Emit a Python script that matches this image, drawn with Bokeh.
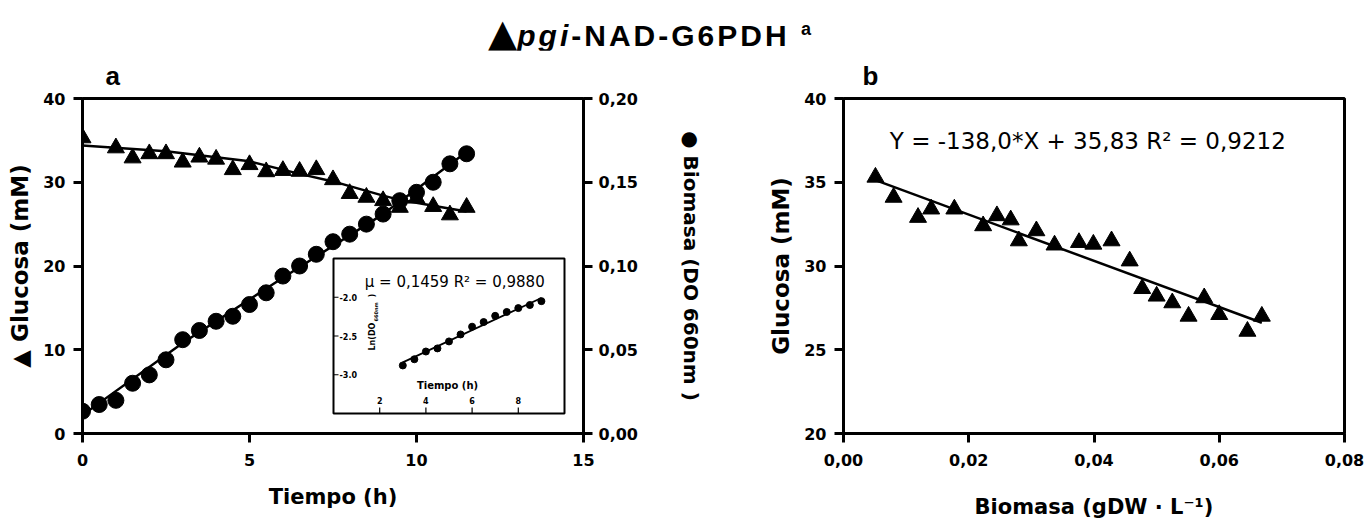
from math import pi
from bokeh.plotting import figure
from bokeh.models import Range1d, LinearAxis, Label, FixedTicker, CustomJSTickFormatter, Div
from bokeh.layouts import row, column
from bokeh.core.properties import value
from bokeh.embed import file_html
from bokeh.resources import INLINE

# ---------------- data ----------------
# panel a: biomass (OD 660nm, right axis) vs time
time_bio = [0, 0.5, 1, 1.5, 2, 2.5, 3, 3.5, 4, 4.5, 5, 5.5, 6, 6.5, 7, 7.5, 8, 8.5, 9, 9.5, 10, 10.5, 11, 11.5]
biomass_od = [0.0133, 0.0173, 0.0198, 0.0300, 0.0350, 0.0440, 0.0560, 0.0615, 0.0670, 0.0700, 0.0770, 0.0840,
              0.0940, 0.1000, 0.1070, 0.1145, 0.1190, 0.1250, 0.1310, 0.1390, 0.1440, 0.1500, 0.1610, 0.1670]
bio_fit_t = [0, 3, 6, 9, 11.5]
bio_fit = [0.011, 0.054, 0.093, 0.131, 0.168]

# panel a: glucose (mM, left axis) vs time
time_glc = [0, 1, 1.5, 2, 2.5, 3, 3.5, 4, 4.5, 5, 5.5, 6, 6.5, 7, 7.5, 8, 8.5, 9, 9.5, 10, 10.5, 11, 11.5]
glucose = [35.3, 34.1, 32.9, 33.4, 33.4, 32.4, 33.0, 32.75, 31.5, 32.1, 31.25, 31.4, 31.3, 31.5, 30.3,
           28.65, 28.2, 27.8, 27.0, 28.1, 27.1, 26.1, 27.0]
glc_fit_t = [0, 2.5, 5, 6.5, 7.5, 9, 9.5, 10.5, 11.5]
glc_fit = [34.4, 33.7, 32.5, 31.0, 30.1, 28.4, 27.9, 27.2, 26.5]

# inset: ln(OD) vs time
inset_t = [3, 3.5, 4, 4.5, 5, 5.5, 6, 6.5, 7, 7.5, 8, 8.5, 9]
inset_ln = [-2.88, -2.80, -2.70, -2.66, -2.57, -2.48, -2.38, -2.32, -2.24, -2.19, -2.14, -2.10, -2.05]
inset_fit_t = [3, 9]
inset_fit = [-2.84, -2.01]

# panel b: glucose vs biomass (gDW/L)
biomass_gdw = [0.0051, 0.0080, 0.0119, 0.0140, 0.0177, 0.0223, 0.0245, 0.0267, 0.0280, 0.0308, 0.0337, 0.0376,
               0.0399, 0.0428, 0.0457, 0.0477, 0.0500, 0.0525, 0.0551, 0.0576, 0.0600, 0.0645, 0.0668]
glucose_b = glucose
fit_b_x = [0.0052, 0.0668]
fit_b_y = [35.11, 26.61]

# axes / ticks
a_xr = [0, 15]
a_yr = [0, 40]
a_y2r = [0, 0.20]
b_xr = [0, 0.08]
b_yr = [20, 40]
inset_xr = [0, 10]
inset_yr = [-3.5, -1.5]
a_xticks = [0, 5, 10, 15]
a_yticks = [0, 10, 20, 30, 40]
a_y2ticks = [0, 0.05, 0.10, 0.15, 0.20]
b_xticks = [0, 0.02, 0.04, 0.06, 0.08]
b_yticks = [20, 25, 30, 35, 40]
inset_xticks = [2, 4, 6, 8]
inset_yticks = [-2.0, -2.5, -3.0]
inset_xtick_labels = ["2", "4", "6", "8"]
inset_ytick_labels = ["-2.0", "-2.5", "-3.0"]

# ---------------- layout (page pixels) ----------------
PAGE_W, PAGE_H = 1369, 522
TITLE_H = 50
FIG_H = PAGE_H - TITLE_H
A_W = 712
B_W = PAGE_W - A_W
A_L, A_R, A_T, A_B = 82, 583, 98, 433
B_L, B_R = 843, 1344
IN_L, IN_R, IN_T, IN_B = 333, 564, 258, 413

BOLD = "DejaVu Sans"


def inset_data(X, Y):
    x = inset_xr[0] + (X - IN_L) / (IN_R - IN_L) * (inset_xr[1] - inset_xr[0])
    y = inset_yr[0] + (IN_B - Y) / (IN_B - IN_T) * (inset_yr[1] - inset_yr[0])
    return x, y


def make_fig(width, xr, yr, left, right, letter, letter_offset):
    p = figure(width=width, height=FIG_H, x_range=Range1d(*xr), y_range=Range1d(*yr),
               output_backend="svg", toolbar_location=None,
               min_border_left=left, min_border_right=right,
               min_border_top=A_T - TITLE_H, min_border_bottom=PAGE_H - A_B,
               background_fill_color="white", border_fill_color="white")
    p.xgrid.grid_line_color = None
    p.ygrid.grid_line_color = None
    p.outline_line_color = "black"
    p.outline_line_width = 3
    p.outline_line_alpha = 1
    p.title.text = letter
    p.title.align = "left"
    p.title.offset = letter_offset
    p.title.standoff = 15
    p.title.text_font = "Liberation Sans"
    p.title.text_font_style = "bold"
    p.title.text_font_size = "26px"
    p.title.text_color = "black"
    return p


def style_axis(ax, ticks, label=None, tick_standoff=8, label_standoff=8, comma=False, label_size="21px"):
    ax.ticker = FixedTicker(ticks=ticks, minor_ticks=[])
    ax.axis_line_color = "black"
    ax.axis_line_width = 3
    ax.major_tick_line_color = "black"
    ax.major_tick_line_width = 3
    ax.major_tick_out = 9
    ax.major_tick_in = 0
    ax.minor_tick_line_color = None
    ax.major_label_text_font = BOLD
    ax.major_label_text_font_style = "bold"
    ax.major_label_text_font_size = "16px"
    ax.major_label_text_color = "black"
    ax.major_label_standoff = tick_standoff
    if comma:
        ax.formatter = CustomJSTickFormatter(code="return tick.toFixed(2).replace('.', ',');")
    if label is not None:
        ax.axis_label = label
        ax.axis_label_text_font = BOLD
        ax.axis_label_text_font_style = "bold"
        ax.axis_label_text_font_size = label_size
        ax.axis_label_text_color = "black"
        ax.axis_label_standoff = label_standoff


def add_label(p, xy, text, size, style="bold", angle=0, align="center", baseline="middle",
              font=BOLD, xrn="default", yrn="default"):
    p.add_layout(Label(x=xy[0], y=xy[1], text=text, angle=angle, text_align=align,
                       text_baseline=baseline, text_font=font, text_font_size=size,
                       text_font_style=style, text_color="black",
                       x_range_name=xrn, y_range_name=yrn))


# ---------------- panel a ----------------
pa = make_fig(A_W, a_xr, a_yr, A_L, A_W - A_R, "a", 23)
ix0 = inset_data(A_L, A_B)[0]
ix1 = inset_data(A_R, A_B)[0]
iy0 = inset_data(A_L, A_B)[1]
iy1 = inset_data(A_L, A_T)[1]
pa.extra_y_ranges = {"bio": Range1d(*a_y2r), "iy": Range1d(iy0, iy1)}
pa.extra_x_ranges = {"ix": Range1d(ix0, ix1)}

style_axis(pa.xaxis[0], a_xticks, "Tiempo (h)", tick_standoff=11, label_standoff=16)
style_axis(pa.yaxis[0], a_yticks, "▲ Glucosa (mM)", tick_standoff=8, label_standoff=7, label_size="23px")
ax_r = LinearAxis(y_range_name="bio")
style_axis(ax_r, a_y2ticks, "● Biomasa (DO 660nm )", tick_standoff=6, label_standoff=38, comma=True,
           label_size="20px")
pa.add_layout(ax_r, "right")

pa.line(glc_fit_t, glc_fit, line_width=2.5, color="black")
pa.scatter(time_glc, glucose, marker="triangle", size=17, color="black")
pa.line(bio_fit_t, bio_fit, y_range_name="bio", line_width=2.5, color="black")
pa.scatter(time_bio, biomass_od, y_range_name="bio", marker="circle", size=16, color="black")

# inset box
pa.quad(left=[inset_xr[0]], right=[inset_xr[1]], bottom=[inset_yr[0]], top=[inset_yr[1]],
        x_range_name="ix", y_range_name="iy", fill_color="white", line_color="black", line_width=2)
tick_len_y = (inset_yr[1] - inset_yr[0]) * 6 / (IN_B - IN_T)
tick_len_x = (inset_xr[1] - inset_xr[0]) * 5 / (IN_R - IN_L)
pa.segment(x0=inset_xticks, y0=[inset_yr[0]] * len(inset_xticks), x1=inset_xticks,
           y1=[inset_yr[0] + tick_len_y] * len(inset_xticks),
           x_range_name="ix", y_range_name="iy", line_color="black", line_width=1.2)
pa.segment(x0=[inset_xr[0]] * len(inset_yticks), y0=inset_yticks, x1=[inset_xr[0] + tick_len_x] * len(inset_yticks),
           y1=inset_yticks, x_range_name="ix", y_range_name="iy", line_color="black", line_width=1.2)
pa.text(x=inset_xticks, y=[inset_data(0, 400)[1]] * len(inset_xticks), text=inset_xtick_labels,
        x_range_name="ix", y_range_name="iy", text_align="center", text_baseline="middle",
        text_font=value(BOLD), text_font_style="bold", text_font_size="8px", text_color="black")
pa.text(x=[inset_data(339, 0)[0]] * len(inset_yticks), y=inset_yticks, text=inset_ytick_labels,
        x_range_name="ix", y_range_name="iy", text_align="left", text_baseline="middle",
        text_font=value(BOLD), text_font_style="bold", text_font_size="8px", text_color="black")
pa.line(inset_fit_t, inset_fit, x_range_name="ix", y_range_name="iy", line_width=1.8, color="black")
pa.scatter(inset_t, inset_ln, x_range_name="ix", y_range_name="iy", marker="circle", size=7, color="black")

add_label(pa, inset_data(459, 281), "μ = 0,1459   R² = 0,9880", "15px", style="normal", xrn="ix", yrn="iy")
add_label(pa, inset_data(447, 385), "Tiempo (h)", "10px", xrn="ix", yrn="iy")
add_label(pa, inset_data(372, 350), "Ln(DO", "8px", angle=pi / 2, align="left", xrn="ix", yrn="iy")
add_label(pa, inset_data(375.5, 321), "660nm", "5px", angle=pi / 2, align="left", xrn="ix", yrn="iy")
add_label(pa, inset_data(372, 297), ")", "8px", angle=pi / 2, align="left", xrn="ix", yrn="iy")

# ---------------- panel b ----------------
pb = make_fig(B_W, b_xr, b_yr, B_L - A_W, PAGE_W - B_R, "b", 19)
style_axis(pb.xaxis[0], b_xticks, "Biomasa (gDW · L⁻¹)", tick_standoff=11, label_standoff=26, comma=True)
style_axis(pb.yaxis[0], b_yticks, "Glucosa (mM)", tick_standoff=8, label_standoff=7, label_size="23px")

pb.line(fit_b_x, fit_b_y, line_width=2.5, color="black")
pb.scatter(biomass_gdw, glucose_b, marker="triangle", size=17, color="black")

bx = b_xr[0] + (1091 - B_L) / (B_R - B_L) * (b_xr[1] - b_xr[0])
by = b_yr[0] + (A_B - 140) / (A_B - A_T) * (b_yr[1] - b_yr[0])
add_label(pb, (bx, by), "Y = -138,0*X + 35,83  R² = 0,9212", "23px", style="normal")

# ---------------- title ----------------
title_html = (
    '<div style="position:relative;width:1369px;height:50px;">'
    '<div style="position:absolute;left:488px;top:14px;white-space:nowrap;'
    "font-family:'Liberation Sans',Arial,sans-serif;font-weight:bold;font-size:30px;"
    'letter-spacing:3px;line-height:1;color:black;">'
    "<span style=\"font-family:'DejaVu Sans';font-size:38px;letter-spacing:0;\">▲</span>"
    '<i>pgi</i>-NAD-G6PDH <sup style="font-size:18px;">a</sup></div></div>'
)
title = Div(text=title_html, width=PAGE_W, height=TITLE_H, margin=(0, 0, 0, 0))

layout = column(title, row(pa, pb, spacing=0), spacing=0)
open("out.html", "w").write(file_html(layout, INLINE))
